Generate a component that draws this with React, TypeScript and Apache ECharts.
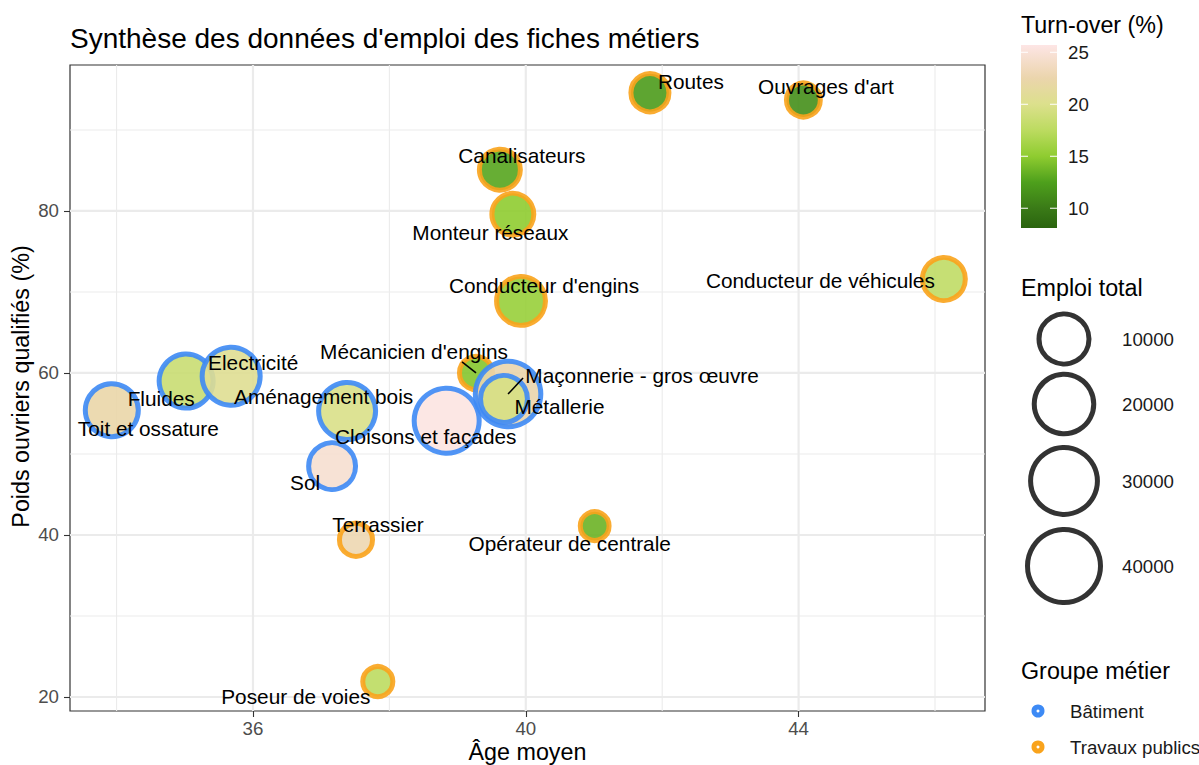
import React, { useEffect, useRef } from "react";
import * as echarts from "echarts";

// ---------- DATA ----------
const jobs = [
  "Toit et ossature", "Fluides", "Electricité", "Aménagement bois", "Sol",
  "Cloisons et façades", "Mécanicien d'engins", "Maçonnerie - gros œuvre", "Métallerie",
  "Routes", "Ouvrages d'art", "Canalisateurs", "Monteur réseaux", "Conducteur d'engins",
  "Conducteur de véhicules", "Terrassier", "Poseur de voies", "Opérateur de centrale",
];
const groups = [
  "Bâtiment", "Bâtiment", "Bâtiment", "Bâtiment", "Bâtiment",
  "Bâtiment", "Travaux publics", "Bâtiment", "Bâtiment",
  "Travaux publics", "Travaux publics", "Travaux publics", "Travaux publics", "Travaux publics",
  "Travaux publics", "Travaux publics", "Travaux publics", "Travaux publics",
];
const ageMoyen = [33.93, 35.02, 35.68, 37.38, 37.16, 38.84, 39.27, 39.74, 39.68, 41.82, 44.07, 39.62, 39.81, 39.93, 46.13, 37.51, 37.83, 41.01];
const poidsQualifies = [55.4, 59.0, 59.6, 55.3, 48.5, 54.1, 60.0, 57.4, 56.8, 94.6, 93.7, 85.1, 79.6, 68.9, 71.6, 39.4, 21.9, 41.1];
const emploiTotal = [12800, 13800, 18200, 17000, 7500, 27300, 700, 28000, 7500, 2300, 900, 3700, 4200, 9100, 4800, 700, 180, 60];
const turnOver = [22.3, 18.5, 20.5, 19.8, 24.5, 25.5, 14.6, 22.5, 19.5, 12.2, 11.4, 12.8, 15.0, 15.5, 17.8, 22.8, 17.5, 13.6];

const groupNames = ["Bâtiment", "Travaux publics"];
const sizeBreaks = [10000, 20000, 30000, 40000];
const turnoverBreaks = [10, 15, 20, 25];
const xMajor = [36, 40, 44];
const xMinor = [34, 38, 42, 46];
const yMajor = [20, 40, 60, 80];
const yMinor = [30, 50, 70, 90];

// ---------- LAYOUT / STYLE ----------
const FONT = "'Liberation Sans', Arial, sans-serif";
const X_MIN = 33.317, X_MAX = 46.733;
const Y_MIN = 18.27, Y_MAX = 98.02;
const TURN_MIN = 8.1, TURN_MAX = 25.7;
const groupColors: Record<string, string> = { "Bâtiment": "#3D8AF5", "Travaux publics": "#F9A31C" };
const STROKE = 5;
const colorStops: [number, string][] = [
  [8.1, "#2A640E"], [10, "#3A7A17"], [12.5, "#4EA01C"], [15, "#8FCC30"],
  [17.5, "#BCDB60"], [20, "#DCE08C"], [22.5, "#EBD5AC"], [25.7, "#FDE5E5"],
];
// label offsets in px (text centre relative to point) and optional segment
const labelOffsets: [number, number][] = [
  [36.5, 18], [-25, 17], [22, -14], [-23.5, -15], [-27, 16],
  [-21, 16], [-62, -21], [134, -18.5], [55.5, 8],
  [41, -11], [22.5, -13], [22, -14], [-22.5, 18], [23, -15],
  [-123.5, 1], [22, -15], [-82, 15], [-25, 17],
];
const segments: ([number, number] | null)[] = [
  null, null, null, null, null, null, [-14, -11], [15, -16], null,
  null, null, null, null, null, null, null, null, null,
];

function sizeFn(v: number) {
  return 32 + 0.23 * Math.sqrt(v);
}
function hexToRgb(h: string) {
  const n = parseInt(h.slice(1), 16);
  return [(n >> 16) & 255, (n >> 8) & 255, n & 255];
}
function colorFor(t: number) {
  if (t <= colorStops[0][0]) return colorStops[0][1];
  for (let i = 1; i < colorStops.length; i++) {
    const [v1, c1] = colorStops[i];
    const [v0, c0] = colorStops[i - 1];
    if (t <= v1) {
      const f = (t - v0) / (v1 - v0);
      const a = hexToRgb(c0), b = hexToRgb(c1);
      const r = a.map((x, k) => Math.round(x + (b[k] - x) * f));
      return `rgb(${r[0]},${r[1]},${r[2]})`;
    }
  }
  return colorStops[colorStops.length - 1][1];
}

export default function App() {
  const ref = useRef<HTMLDivElement>(null);
  useEffect(() => {
    document.body.style.margin = "0";
    const chart = echarts.init(ref.current!, null, { renderer: "svg" });

    const points = jobs.map((name, i) => ({
      name,
      value: [ageMoyen[i], poidsQualifies[i], emploiTotal[i], turnOver[i]],
      symbolSize: sizeFn(emploiTotal[i]) - STROKE,
      itemStyle: {
        color: colorFor(turnOver[i]),
        borderColor: groupColors[groups[i]],
        borderWidth: STROKE,
        opacity: 0.9,
      },
    }));

    const gridSeries = (vals: number[], dir: "x" | "y", width: number) => ({
      type: "custom",
      coordinateSystem: "cartesian2d",
      silent: true,
      z: 1,
      data: vals.map((v) => (dir === "x" ? [v, Y_MIN] : [X_MIN, v])),
      renderItem: (_p: any, api: any) => {
        const v = api.value(dir === "x" ? 0 : 1);
        const a = dir === "x" ? api.coord([v, Y_MIN]) : api.coord([X_MIN, v]);
        const b = dir === "x" ? api.coord([v, Y_MAX]) : api.coord([X_MAX, v]);
        return {
          type: "line",
          shape: { x1: a[0], y1: a[1], x2: b[0], y2: b[1] },
          style: { stroke: "#EBEBEB", lineWidth: width },
        };
      },
    });

    // colour bar
    const cbX = 1021, cbTop = 45, cbBottom = 228, cbW = 36;
    const cbY = (v: number) => cbBottom - ((v - TURN_MIN) / (TURN_MAX - TURN_MIN)) * (cbBottom - cbTop);
    const gradStops = colorStops.map(([v, c]) => ({ offset: (v - TURN_MIN) / (TURN_MAX - TURN_MIN), color: c }));

    const graphics: any[] = [
      { type: "text", x: 70, y: 38, style: { text: "Synthèse des données d'emploi des fiches métiers", fill: "#000", fontSize: 28, fontFamily: FONT, align: "left", verticalAlign: "middle" } },
      { type: "text", x: 527.5, y: 752, style: { text: "Âge moyen", fill: "#000", fontSize: 23.3, fontFamily: FONT, align: "center", verticalAlign: "middle" } },
      { type: "text", x: 21, y: 386.5, rotation: Math.PI / 2, style: { text: "Poids ouvriers qualifiés (%)", fill: "#000", fontSize: 23.3, fontFamily: FONT, align: "center", verticalAlign: "middle" } },
      // Turn-over legend
      { type: "text", x: 1021, y: 25, style: { text: "Turn-over (%)", fill: "#000", fontSize: 23.3, fontFamily: FONT, align: "left", verticalAlign: "middle" } },
      {
        type: "rect", shape: { x: cbX, y: cbTop, width: cbW, height: cbBottom - cbTop },
        style: { fill: new echarts.graphic.LinearGradient(0, 1, 0, 0, gradStops) },
      },
      ...turnoverBreaks.flatMap((v) => [
        { type: "line", shape: { x1: cbX, y1: cbY(v), x2: cbX + 7, y2: cbY(v) }, style: { stroke: "#fff", lineWidth: 1 } },
        { type: "line", shape: { x1: cbX + cbW - 7, y1: cbY(v), x2: cbX + cbW, y2: cbY(v) }, style: { stroke: "#fff", lineWidth: 1 } },
        { type: "text", x: 1068, y: cbY(v), style: { text: String(v), fill: "#1A1A1A", fontSize: 18.7, fontFamily: FONT, align: "left", verticalAlign: "middle" } },
      ]),
      // Emploi total legend
      { type: "text", x: 1021, y: 288, style: { text: "Emploi total", fill: "#000", fontSize: 23.3, fontFamily: FONT, align: "left", verticalAlign: "middle" } },
      ...sizeBreaks.flatMap((v, i) => {
        const cy = [339, 404, 481, 566][i];
        return [
          { type: "circle", shape: { cx: 1064, cy, r: (sizeFn(v) - STROKE) / 2 }, style: { fill: "none", stroke: "#333333", lineWidth: STROKE } },
          { type: "text", x: 1122, y: cy, style: { text: String(v), fill: "#1A1A1A", fontSize: 18.7, fontFamily: FONT, align: "left", verticalAlign: "middle" } },
        ];
      }),
      // Groupe métier legend
      { type: "text", x: 1021, y: 671, style: { text: "Groupe métier", fill: "#000", fontSize: 23.3, fontFamily: FONT, align: "left", verticalAlign: "middle" } },
      ...groupNames.flatMap((g, i) => {
        const cy = [711, 747][i];
        return [
          { type: "circle", shape: { cx: 1038, cy, r: 4 }, style: { fill: "#fff", stroke: groupColors[g], lineWidth: 5 } },
          { type: "text", x: 1070, y: cy, style: { text: g, fill: "#1A1A1A", fontSize: 18.7, fontFamily: FONT, align: "left", verticalAlign: "middle" } },
        ];
      }),
    ];

    chart.setOption({
      animation: false,
      backgroundColor: "#fff",
      grid: { left: 70, right: 214, top: 65, bottom: 54, show: true, borderColor: "#333333", borderWidth: 1.2, backgroundColor: "transparent", containLabel: false },
      xAxis: {
        type: "value", min: X_MIN, max: X_MAX,
        splitLine: { show: false },
        axisLine: { show: false },
        axisTick: { show: true, customValues: xMajor, length: 6, lineStyle: { color: "#333333", width: 1.1 } },
        axisLabel: { customValues: xMajor, color: "#4D4D4D", fontSize: 18.7, fontFamily: FONT, margin: 8 },
      },
      yAxis: {
        type: "value", min: Y_MIN, max: Y_MAX,
        splitLine: { show: false },
        axisLine: { show: false },
        axisTick: { show: true, customValues: yMajor, length: 6, lineStyle: { color: "#333333", width: 1.1 } },
        axisLabel: { customValues: yMajor, color: "#4D4D4D", fontSize: 18.7, fontFamily: FONT, margin: 11 },
      },
      graphic: graphics,
      series: [
        gridSeries(xMinor, "x", 1.1),
        gridSeries(yMinor, "y", 1.1),
        gridSeries(xMajor, "x", 2.2),
        gridSeries(yMajor, "y", 2.2),
        {
          type: "scatter",
          z: 3,
          data: points,
          label: { show: false },
        },
        {
          type: "custom",
          coordinateSystem: "cartesian2d",
          z: 10,
          silent: true,
          clip: false,
          data: jobs.map((_, i) => [ageMoyen[i], poidsQualifies[i]]),
          renderItem: (params: any, api: any) => {
            const i = params.dataIndex;
            const p = api.coord([api.value(0), api.value(1)]);
            const [dx, dy] = labelOffsets[i];
            const children: any[] = [];
            const seg = segments[i];
            if (seg) {
              children.push({ type: "line", shape: { x1: p[0], y1: p[1], x2: p[0] + seg[0], y2: p[1] + seg[1] }, style: { stroke: "#000", lineWidth: 1.6 } });
            }
            children.push({
              type: "text",
              x: p[0] + dx, y: p[1] + dy,
              style: { text: jobs[i], fill: "#000", fontSize: 20.8, fontFamily: FONT, align: "center", verticalAlign: "middle" },
            });
            return { type: "group", children };
          },
        },
      ],
    });
    return () => chart.dispose();
  }, []);
  return <div ref={ref} style={{ width: 1199, height: 765 }} />;
}
